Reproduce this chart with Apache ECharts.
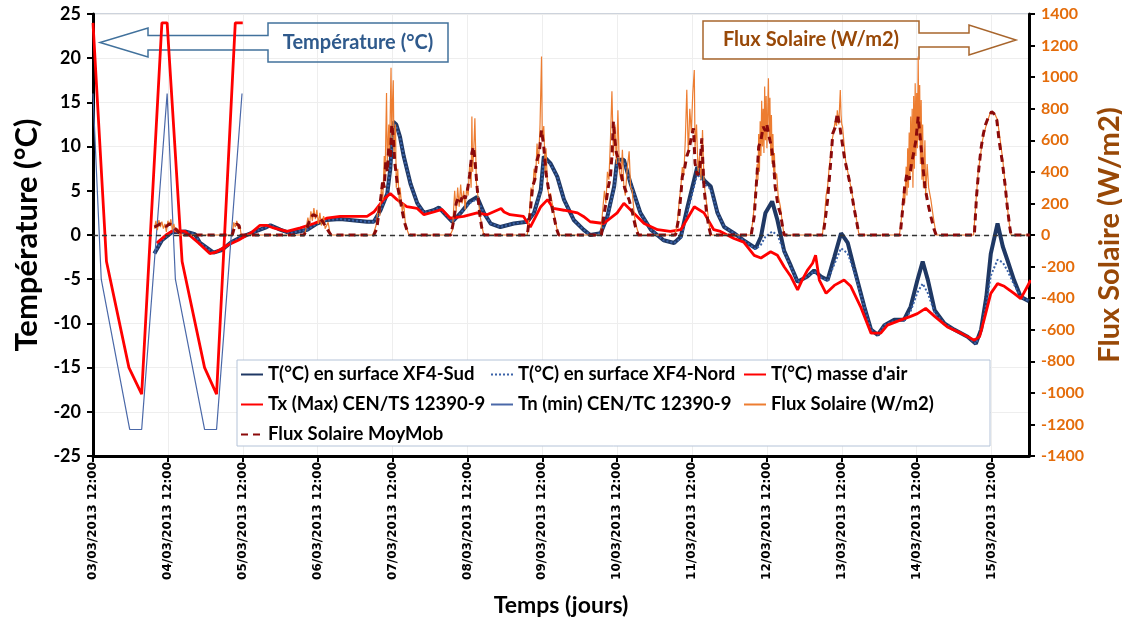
<!DOCTYPE html>
<html>
<head>
<meta charset="utf-8">
<script src="https://cdn.jsdelivr.net/npm/echarts@6/dist/echarts.min.js"></script>
<style>html,body{margin:0;background:#fff}#chart{width:1122px;height:619px}</style>
</head>
<body>
<div id="chart"></div>
<script>
// time in days since 03/03/2013 12:00
const dateLabels = ['03/03/2013 12:00','04/03/2013 12:00','05/03/2013 12:00','06/03/2013 12:00','07/03/2013 12:00',
  '08/03/2013 12:00','09/03/2013 12:00','10/03/2013 12:00','11/03/2013 12:00','12/03/2013 12:00',
  '13/03/2013 12:00','14/03/2013 12:00','15/03/2013 12:00'];

const sudData = [[0.82,-2.1],[0.92,-0.6],[1.05,0.3],[1.23,0.4],[1.36,0.1],[1.43,-0.9],[1.61,-2.0],[1.72,-1.7],[1.85,-0.8],[1.99,-0.2],
  [2.17,0.4],[2.32,0.9],[2.37,1.1],[2.5,0.6],[2.63,0.2],[2.86,0.6],[2.99,1.3],[3.12,1.7],[3.3,1.8],[3.66,1.5],[3.75,1.5],[3.84,2.8],
  [3.93,4.7],[3.97,7.5],[4.01,12.8],[4.05,12.5],[4.1,11.1],[4.15,8.9],[4.24,5.8],[4.33,3.6],[4.42,2.5],[4.55,2.8],[4.62,3.1],[4.73,2.1],
  [4.8,1.5],[4.91,2.5],[5.03,3.8],[5.13,4.3],[5.22,2.5],[5.31,1.3],[5.44,0.9],[5.62,1.3],[5.8,1.5],[5.89,2.5],[5.98,5.1],[6.02,8.9],
  [6.11,8.1],[6.2,6.6],[6.29,4.0],[6.42,1.7],[6.55,0.6],[6.64,0.0],[6.78,0.2],[6.87,2.1],[6.96,5.5],[7.0,8.5],[7.09,8.5],[7.18,5.8],
  [7.31,2.5],[7.45,0.6],[7.62,-0.6],[7.76,-0.9],[7.85,-0.2],[7.94,3.2],[8.07,7.7],[8.16,6.2],[8.25,5.5],[8.34,2.5],[8.43,0.9],[8.56,0.2],
  [8.69,-0.6],[8.85,-1.5],[8.92,-0.2],[8.98,2.5],[9.07,3.8],[9.14,1.7],[9.23,-1.8],[9.32,-3.5],[9.41,-5.3],[9.54,-4.7],[9.63,-4.0],
  [9.72,-4.7],[9.81,-5.1],[9.9,-2.5],[9.99,0.2],[10.08,-0.9],[10.16,-3.6],[10.3,-8.1],[10.39,-10.7],[10.48,-11.3],[10.57,-10.2],
  [10.7,-9.6],[10.83,-9.6],[10.92,-8.1],[11.01,-5.1],[11.08,-3.0],[11.15,-5.1],[11.24,-8.5],[11.37,-10.0],[11.5,-10.7],[11.68,-11.5],
  [11.79,-12.3],[11.86,-10.7],[11.93,-7.0],[11.99,-2.1],[12.08,1.3],[12.15,-1.3],[12.21,-2.8],[12.3,-5.1],[12.39,-7.0],[12.5,-7.5]];

const nordData = [[0.82,-2.1],[0.92,-0.6],[1.05,0.3],[1.23,0.4],[1.36,0.1],[1.43,-0.9],[1.61,-2.0],[1.72,-1.7],[1.85,-0.8],[1.99,-0.2],
  [2.17,0.4],[2.32,0.9],[2.37,1.1],[2.5,0.6],[2.63,0.2],[2.86,0.6],[2.99,1.3],[3.12,1.7],[3.3,1.8],[3.66,1.5],[3.75,1.5],[3.84,2.8],
  [3.93,4.7],[3.97,7.5],[4.01,12.6],[4.05,12.3],[4.1,11.0],[4.15,8.9],[4.24,5.8],[4.33,3.6],[4.42,2.5],[4.55,2.8],[4.62,3.1],[4.73,2.1],
  [4.8,1.5],[4.91,2.5],[5.03,3.6],[5.13,4.1],[5.22,2.5],[5.31,1.3],[5.44,0.9],[5.62,1.3],[5.8,1.5],[5.89,2.5],[5.98,5.0],[6.02,8.6],
  [6.11,8.0],[6.2,6.6],[6.29,4.0],[6.42,1.7],[6.55,0.6],[6.64,0.0],[6.78,0.2],[6.87,2.0],[6.96,5.3],[7.0,8.2],[7.09,8.3],[7.18,5.8],
  [7.31,2.5],[7.45,0.6],[7.62,-0.6],[7.76,-0.9],[7.85,-0.4],[7.94,2.6],[8.07,6.9],[8.16,5.8],[8.25,5.2],[8.34,2.5],[8.43,0.9],[8.56,0.2],
  [8.69,-0.6],[8.85,-1.6],[8.92,-1.1],[8.98,-0.2],[9.07,0.4],[9.14,0.0],[9.23,-1.9],[9.32,-3.6],[9.41,-5.3],[9.54,-4.7],[9.63,-4.1],
  [9.72,-4.8],[9.81,-5.2],[9.9,-3.3],[9.99,-1.5],[10.08,-2.1],[10.16,-4.0],[10.3,-8.1],[10.39,-10.7],[10.48,-11.3],[10.57,-10.2],
  [10.7,-9.7],[10.83,-9.7],[10.92,-8.6],[11.01,-6.5],[11.08,-5.5],[11.15,-6.6],[11.24,-8.8],[11.37,-10.0],[11.5,-10.7],[11.68,-11.5],
  [11.79,-12.3],[11.86,-10.9],[11.93,-7.8],[11.99,-4.6],[12.08,-2.8],[12.15,-3.1],[12.21,-4.0],[12.3,-5.6],[12.39,-7.0],[12.5,-7.5]];

const airData = [[0.85,-0.9],[0.99,0.1],[1.07,0.5],[1.23,0.4],[1.41,-0.9],[1.56,-2.1],[1.65,-1.9],[1.81,-1.1],[1.94,-0.6],[2.12,0.3],
  [2.23,1.1],[2.32,1.1],[2.41,0.8],[2.59,0.4],[2.77,0.8],[2.95,1.3],[3.12,1.9],[3.3,2.1],[3.66,2.1],[3.75,2.6],[3.88,4.0],[3.97,4.7],
  [4.06,4.0],[4.19,3.2],[4.33,3.0],[4.42,2.3],[4.55,2.6],[4.66,2.9],[4.77,1.9],[4.95,2.1],[5.13,2.5],[5.26,2.3],[5.45,3.0],[5.49,2.6],
  [5.57,2.3],[5.75,2.1],[5.84,0.9],[5.98,3.2],[6.07,4.0],[6.15,3.0],[6.29,2.8],[6.47,2.5],[6.55,2.1],[6.64,1.5],[6.82,1.3],[7.0,2.5],
  [7.09,3.6],[7.22,2.5],[7.36,1.3],[7.54,0.6],[7.71,0.4],[7.85,0.6],[8.03,3.2],[8.16,2.5],[8.29,0.6],[8.38,0.4],[8.56,-0.4],[8.69,-0.8],
  [8.83,-2.3],[8.92,-2.6],[9.05,-1.9],[9.14,-2.3],[9.23,-3.6],[9.32,-4.7],[9.41,-6.2],[9.47,-5.1],[9.54,-4.0],[9.61,-3.2],[9.65,-2.3],
  [9.7,-5.1],[9.79,-6.6],[9.9,-5.7],[10.03,-5.1],[10.12,-5.8],[10.25,-8.1],[10.39,-11.1],[10.52,-11.1],[10.61,-10.2],[10.79,-9.6],
  [10.92,-9.2],[11.01,-8.9],[11.12,-8.3],[11.24,-9.2],[11.41,-10.4],[11.59,-11.1],[11.77,-11.9],[11.84,-11.5],[11.9,-9.6],[11.99,-6.6],
  [12.08,-5.5],[12.17,-5.8],[12.3,-6.6],[12.39,-7.2],[12.48,-5.8],[12.52,-5.1]];

const txData = [[0,24],[0.18,-3],[0.48,-15],[0.65,-18],[0.92,24],[0.99,24],[1.19,-3],[1.49,-15],[1.65,-18],[1.9,24],[2.0,24]];
const tnData = [[0,16],[0.11,-5],[0.49,-22],[0.65,-22],[0.99,16],[1.1,-5],[1.49,-22],[1.65,-22],[1.99,16]];

const fluxData = [[0.82,40],[0.84,90],[0.86,30],[0.88,95],[0.9,50],[0.92,85],[0.94,40],[0.96,70],[0.98,20],[1.0,90],[1.02,60],
  [1.04,100],[1.06,30],[1.08,70],[1.1,20],[1.13,40],[1.16,0],
  [1.86,0],[1.88,80],[1.9,50],[1.92,90],[1.94,40],[1.96,60],[1.98,0],
  [2.82,0],[2.84,30],[2.87,110],[2.89,60],[2.91,150],[2.93,90],[2.95,170],[2.97,100],[2.99,160],[3.01,70],[3.03,140],[3.05,60],
  [3.08,120],[3.1,40],[3.14,80],[3.17,0],
  [3.74,0],[3.78,60],[3.81,180],[3.83,120],[3.85,300],[3.87,220],[3.89,500],[3.9,350],[3.92,900],[3.93,450],[3.95,700],[3.96,500],
  [3.98,1060],[3.99,600],[4.0,850],[4.01,980],[4.02,500],[4.04,700],[4.05,300],[4.07,420],[4.09,200],[4.1,300],[4.13,150],[4.15,200],
  [4.17,80],[4.19,40],[4.22,0],
  [4.77,0],[4.8,30],[4.83,280],[4.85,150],[4.87,300],[4.89,180],[4.91,320],[4.93,200],[4.95,280],[4.97,160],[4.99,300],[5.01,250],
  [5.03,450],[5.05,300],[5.06,750],[5.07,400],[5.09,600],[5.1,740],[5.12,330],[5.14,250],[5.17,120],[5.2,40],[5.22,0],
  [5.8,0],[5.83,150],[5.85,300],[5.87,250],[5.89,420],[5.91,350],[5.93,580],[5.95,450],[5.97,700],[5.99,1130],[6.0,600],[6.02,690],
  [6.04,400],[6.05,550],[6.07,300],[6.09,250],[6.11,264],[6.14,180],[6.17,100],[6.2,30],[6.22,0],
  [6.78,0],[6.8,120],[6.83,280],[6.85,200],[6.87,400],[6.89,350],[6.91,600],[6.93,910],[6.95,500],[6.97,700],[6.99,450],[7.01,790],
  [7.03,400],[7.05,350],[7.07,540],[7.09,300],[7.11,250],[7.13,400],[7.16,530],[7.18,300],[7.2,285],[7.23,120],[7.26,50],[7.29,0],
  [7.77,0],[7.8,60],[7.83,220],[7.85,300],[7.87,430],[7.89,380],[7.91,600],[7.93,920],[7.95,500],[7.97,800],[7.99,650],[8.01,900],
  [8.03,1045],[8.04,550],[8.06,700],[8.08,400],[8.1,500],[8.12,350],[8.14,665],[8.16,330],[8.18,250],[8.2,180],[8.23,60],[8.25,0],
  [8.78,0],[8.81,80],[8.83,180],[8.85,300],[8.87,450],[8.88,350],[8.89,640],[8.9,400],[8.91,720],[8.92,500],[8.93,850],[8.94,560],
  [8.95,800],[8.96,520],[8.97,940],[8.98,600],[8.99,880],[9.0,550],[9.02,993],[9.03,600],[9.04,870],[9.05,500],[9.06,760],[9.07,450],
  [9.08,640],[9.09,400],[9.1,520],[9.11,350],[9.13,390],[9.15,250],[9.18,180],[9.21,60],[9.23,0],
  [9.74,0],[9.77,120],[9.79,250],[9.81,306],[9.83,420],[9.85,500],[9.87,600],[9.89,650],[9.91,720],[9.93,690],[9.94,790],[9.96,700],
  [9.98,918],[9.99,760],[10.0,700],[10.01,686],[10.03,580],[10.05,475],[10.08,400],[10.12,306],[10.16,200],[10.19,116],[10.23,0],
  [10.77,0],[10.8,120],[10.81,179],[10.83,300],[10.84,200],[10.86,433],[10.87,250],[10.88,550],[10.89,300],[10.9,650],[10.91,350],
  [10.92,750],[10.93,400],[10.94,800],[10.95,300],[10.96,880],[10.97,420],[10.98,961],[10.99,500],[11.0,900],[11.01,550],[11.02,1130],
  [11.03,600],[11.04,950],[11.05,450],[11.06,855],[11.07,350],[11.08,700],[11.09,300],[11.11,600],[11.12,250],[11.14,450],[11.16,300],
  [11.19,222],[11.22,120],[11.26,0],
  [11.76,0],[11.79,200],[11.82,391],[11.85,500],[11.88,602],[11.92,680],[11.95,728],[11.98,770],[12.01,781],[12.05,760],[12.08,728],
  [12.11,620],[12.15,475],[12.18,330],[12.21,179],[12.24,60],[12.26,0],[12.51,0]];

const moyMobData = [[0.82,50],[0.86,60],[0.9,70],[0.94,60],[0.98,55],[1.02,70],[1.06,60],[1.1,40],[1.14,20],[1.17,0],
  [1.86,0],[1.89,50],[1.92,70],[1.95,60],[1.98,0],
  [2.82,0],[2.86,50],[2.9,100],[2.94,130],[2.98,120],[3.02,110],[3.06,90],[3.1,60],[3.15,20],[3.18,0],
  [3.75,0],[3.79,40],[3.82,150],[3.85,260],[3.87,350],[3.89,300],[3.91,470],[3.93,400],[3.95,560],[3.97,480],[3.99,700],[4.01,620],
  [4.03,460],[4.05,380],[4.07,300],[4.1,230],[4.13,150],[4.16,80],[4.2,20],[4.23,0],
  [4.78,0],[4.82,100],[4.85,200],[4.88,240],[4.91,210],[4.94,260],[4.97,230],[5.0,280],[5.03,380],[5.06,520],[5.08,560],[5.1,480],
  [5.13,300],[5.16,150],[5.19,50],[5.22,0],
  [5.8,0],[5.84,150],[5.87,306],[5.9,350],[5.93,475],[5.96,520],[5.99,665],[6.02,560],[6.05,391],[6.08,300],[6.11,222],[6.15,130],
  [6.19,40],[6.22,0],
  [6.79,0],[6.82,120],[6.85,200],[6.88,300],[6.91,369],[6.93,500],[6.95,718],[6.97,600],[6.99,520],[7.02,475],[7.05,400],[7.07,348],
  [7.1,300],[7.13,260],[7.16,222],[7.2,150],[7.24,60],[7.28,0],
  [7.78,0],[7.82,100],[7.85,250],[7.87,369],[7.9,420],[7.93,500],[7.96,538],[7.99,620],[8.02,676],[8.04,454],[8.07,380],[8.1,400],
  [8.13,612],[8.16,300],[8.19,158],[8.22,60],[8.25,0],
  [8.79,0],[8.83,116],[8.87,400],[8.89,559],[8.92,600],[8.95,686],[8.98,660],[9.0,700],[9.02,644],[9.04,600],[9.06,559],[9.09,450],
  [9.11,306],[9.15,180],[9.18,137],[9.21,50],[9.23,0],
  [9.75,0],[9.78,100],[9.81,222],[9.85,450],[9.88,644],[9.91,680],[9.94,771],[9.97,700],[10.0,602],[10.04,475],[10.08,391],
  [10.12,300],[10.16,179],[10.2,80],[10.23,0],
  [10.78,0],[10.81,150],[10.84,306],[10.87,391],[10.9,350],[10.93,450],[10.96,520],[10.99,600],[11.02,750],[11.05,602],[11.08,450],
  [11.11,306],[11.15,200],[11.19,116],[11.23,40],[11.26,0],
  [11.77,0],[11.8,250],[11.83,420],[11.86,550],[11.89,640],[11.92,700],[11.96,750],[12.0,781],[12.03,770],[12.07,728],[12.1,600],
  [12.14,475],[12.18,320],[12.21,179],[12.24,60],[12.26,0],[12.51,0]];

const chart = echarts.init(document.getElementById('chart'));
const font = 'Lato';

const legendText = { fontFamily: font, fontWeight: 'bold', fontSize: 18.5, color: '#000' };
const legendBase = { orient: 'vertical', top: 365, padding: 0, itemWidth: 22, itemHeight: 14, itemGap: 11,
  textStyle: legendText, selectedMode: false };

chart.setOption({
  animation: false,
  backgroundColor: '#fff',
  grid: { left: 93, right: 93, top: 14, bottom: 163, outerBoundsMode: 'none', containLabel: false,
    show: true, borderColor: '#9aa7b8', borderWidth: 1 },
  legend: [
    Object.assign({ left: 240, data: ['T(°C) en surface XF4-Sud', 'Tx (Max) CEN/TS 12390-9', 'Flux Solaire MoyMob'] }, legendBase),
    Object.assign({ left: 490, data: ['T(°C) en surface XF4-Nord', 'Tn (min) CEN/TC 12390-9'] }, legendBase),
    Object.assign({ left: 743, data: ["T(°C) masse d'air", 'Flux Solaire (W/m2)'] }, legendBase)
  ],
  xAxis: {
    type: 'value', min: 0, max: 12.5, interval: 1,
    name: 'Temps (jours)', nameLocation: 'middle', nameGap: 138,
    nameTextStyle: { fontFamily: font, fontWeight: 'bold', fontSize: 23, color: '#000' },
    axisLine: { onZero: false, lineStyle: { color: '#000', width: 3 } },
    axisTick: { length: 6, lineStyle: { color: '#000', width: 2 } },
    axisLabel: {
      rotate: 90, margin: 6, showMaxLabel: false,
      fontFamily: 'DejaVu Sans', fontWeight: 'bold', fontSize: 12, color: '#000',
      formatter: v => dateLabels[Math.round(v)] || ''
    },
    splitLine: { show: true, lineStyle: { color: '#eeeeee', width: 1 } }
  },
  yAxis: [
    {
      type: 'value', min: -25, max: 25, interval: 5,
      name: 'Température (°C)', nameLocation: 'middle', nameGap: 50, nameRotate: 90,
      nameTextStyle: { fontFamily: font, fontWeight: 'bold', fontSize: 31, color: '#000' },
      axisLine: { show: true, lineStyle: { color: '#000', width: 3 } },
      axisTick: { show: true, length: 6, lineStyle: { color: '#000', width: 2 } },
      axisLabel: { fontFamily: font, fontWeight: 'bold', fontSize: 18, color: '#000', margin: 12 },
      splitLine: { show: true, lineStyle: { color: '#eeeeee', width: 1 } }
    },
    {
      type: 'value', min: -1400, max: 1400, interval: 200, position: 'right',
      name: 'Flux Solaire (W/m2)', nameLocation: 'middle', nameGap: 58, nameRotate: 90,
      nameTextStyle: { fontFamily: font, fontWeight: 'bold', fontSize: 29, color: '#984807' },
      axisLine: { show: true, lineStyle: { color: '#000', width: 3 } },
      axisTick: { show: true, length: 6, lineStyle: { color: '#000', width: 2 } },
      axisLabel: { fontFamily: font, fontWeight: 'bold', fontSize: 16, color: '#e46c0a', margin: 12,
        formatter: v => String(v) },
      splitLine: { show: false }
    }
  ],
  graphic: [
    { type: 'rect', z: 3, shape: { x: 237, y: 360, width: 753, height: 86 },
      style: { fill: '#fff', stroke: '#b4c3d8', lineWidth: 1 } },
    { type: 'polygon', z: 1,
      shape: { points: [[268,23],[448,23],[448,62],[268,62],[268,50],[148,50],[148,57],[100,42.5],[148,28],[148,35.5],[268,35.5]] },
      style: { fill: 'none', stroke: '#41719c', lineWidth: 1.5 } },
    { type: 'text', z: 1, x: 358, y: 43,
      style: { text: 'Température (°C)', font: 'bold 20px Lato', fill: '#2f5a8c', align: 'center', verticalAlign: 'middle' } },
    { type: 'polygon', z: 1,
      shape: { points: [[703,21],[919,21],[919,33],[969,33],[969,25],[1016,40],[969,55],[969,47],[919,47],[919,59],[703,59]] },
      style: { fill: 'none', stroke: '#a8652c', lineWidth: 1.5 } },
    { type: 'text', z: 1, x: 811, y: 40,
      style: { text: 'Flux Solaire (W/m2)', font: 'bold 20px Lato', fill: '#984807', align: 'center', verticalAlign: 'middle' } }
  ],
  series: [
    { name: 'T(°C) en surface XF4-Sud', type: 'line', data: sudData, symbol: 'none',
      lineStyle: { color: '#1f3864', width: 4 }, itemStyle: { color: '#1f3864', opacity: 0 },
      markLine: { silent: true, symbol: 'none', label: { show: false },
        lineStyle: { color: '#333', type: [5, 4], width: 1.3 }, data: [{ yAxis: 0 }] } },
    { name: 'T(°C) en surface XF4-Nord', type: 'line', data: nordData, symbol: 'none',
      lineStyle: { color: '#3a62a8', width: 2, type: 'dotted' }, itemStyle: { color: '#3a62a8', opacity: 0 } },
    { name: "T(°C) masse d'air", type: 'line', data: airData, symbol: 'none',
      lineStyle: { color: '#ff0000', width: 2.8 }, itemStyle: { color: '#ff0000', opacity: 0 } },
    { name: 'Tx (Max) CEN/TS 12390-9', type: 'line', data: txData, symbol: 'none',
      lineStyle: { color: '#ff0000', width: 2.8 }, itemStyle: { color: '#ff0000', opacity: 0 } },
    { name: 'Tn (min) CEN/TC 12390-9', type: 'line', data: tnData, symbol: 'none',
      lineStyle: { color: '#4a68a8', width: 1.2 }, itemStyle: { color: '#4a68a8', opacity: 0 } },
    { name: 'Flux Solaire (W/m2)', type: 'line', yAxisIndex: 1, data: fluxData, symbol: 'none',
      lineStyle: { color: '#ed7d31', width: 1.2 }, itemStyle: { color: '#f4b183', opacity: 0 } },
    { name: 'Flux Solaire MoyMob', type: 'line', yAxisIndex: 1, data: moyMobData, symbol: 'none',
      lineStyle: { color: '#8b0a0a', width: 3, type: [7, 5] }, itemStyle: { color: '#8b0a0a', opacity: 0 } }
  ]
});
</script>
</body>
</html>
